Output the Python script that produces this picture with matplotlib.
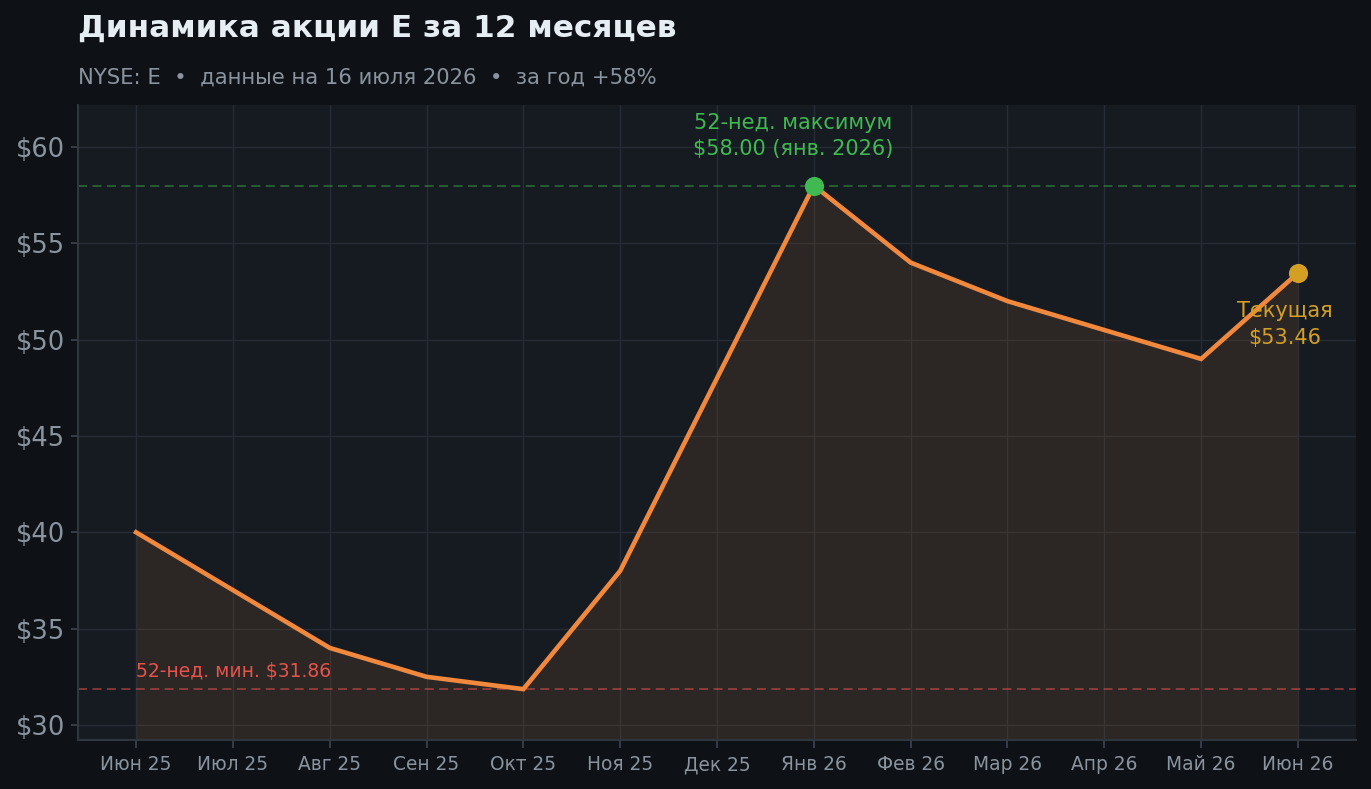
import matplotlib
matplotlib.use("Agg")
import matplotlib.pyplot as plt

months = ["Июн 25", "Июл 25", "Авг 25", "Сен 25", "Окт 25", "Ноя 25", "Дек 25",
          "Янв 26", "Фев 26", "Мар 26", "Апр 26", "Май 26", "Июн 26"]
prices = [40.0, 37.0, 34.0, 32.5, 31.86, 38.0, 48.0, 58.0, 54.0, 52.0, 50.5, 49.0, 53.46]
y_ticks = [30, 35, 40, 45, 50, 55, 60]
y_tick_labels = ["$30", "$35", "$40", "$45", "$50", "$55", "$60"]
high_value = 58.00
low_value = 31.86
current_value = 53.46

BG = "#0e1217"
AX_BG = "#161b22"
ORANGE = "#f0883e"
GREEN = "#3fb950"
RED = "#e5534b"
GOLD = "#d4a024"
TEXT = "#8b949e"

plt.rcParams['font.family'] = ['DejaVu Sans']
fig = plt.figure(figsize=(13.71, 7.89), dpi=100, facecolor=BG)
ax = fig.add_axes([78/1371, 1-740/789, (1356-78)/1371, (740-105)/789])
ax.set_facecolor(AX_BG)

x = list(range(len(months)))
ymin, ymax = 29.22, 62.18
ax.set_xlim(-0.6, len(months) - 1 + 0.6)
ax.set_ylim(ymin, ymax)

ax.grid(True, color="#262c35", linewidth=1.0, zorder=0)
ax.set_axisbelow(True)

ax.fill_between(x, prices, ymin, color=ORANGE, alpha=0.10, linewidth=0, zorder=1)
ax.plot(x, prices, color=ORANGE, linewidth=3.3, zorder=3, solid_joinstyle="miter")

ax.axhline(high_value, color=GREEN, alpha=0.45, linestyle=(0, (5, 3)), linewidth=1.3, zorder=2)
ax.axhline(low_value, color=RED, alpha=0.55, linestyle=(0, (5, 3)), linewidth=1.3, zorder=2)

i_high = prices.index(high_value)
ax.scatter([i_high], [high_value], s=190, color=GREEN, zorder=5, linewidths=0)
ax.scatter([x[-1]], [current_value], s=190, color=GOLD, zorder=5, linewidths=0)

ax.annotate("52-нед. максимум\n$58.00 (янв. 2026)", xy=(i_high, high_value),
            xytext=(-15, 19), textcoords="offset points", ha="center", va="bottom",
            color=GREEN, fontsize=15, linespacing=1.4)
ax.annotate("Текущая\n$53.46", xy=(x[-1], current_value),
            xytext=(-9.5, -20.5), textcoords="offset points", ha="center", va="top",
            color=GOLD, fontsize=15, linespacing=1.4)
ax.text(0, low_value + 0.4, "52-нед. мин. $31.86", color=RED, fontsize=13.5,
        ha="left", va="bottom")

ax.set_xticks(x)
ax.set_xticklabels(months)
ax.set_yticks(y_ticks)
ax.set_yticklabels(y_tick_labels)
ax.tick_params(axis="x", colors="#3a414b", labelcolor=TEXT, labelsize=13.4, length=6, width=1.3, pad=5)
ax.tick_params(axis="y", colors="#3a414b", labelcolor=TEXT, labelsize=18.5, length=5, width=1.3, pad=4.5)

for side in ["top", "right"]:
    ax.spines[side].set_visible(False)
for side in ["left", "bottom"]:
    ax.spines[side].set_color("#30363d")
    ax.spines[side].set_linewidth(1.5)

fig.text(78/1371, 1-28.5/789, "Динамика акции E за 12 месяцев", color="#e6edf3",
         fontsize=22.4, fontweight="bold", ha="left", va="center")
fig.text(78/1371, 1-77.5/789, "NYSE: E  •  данные на 16 июля 2026  •  за год +58%",
         color=TEXT, fontsize=15.2, ha="left", va="center")

fig.savefig("out.png", dpi=100, facecolor=BG)
